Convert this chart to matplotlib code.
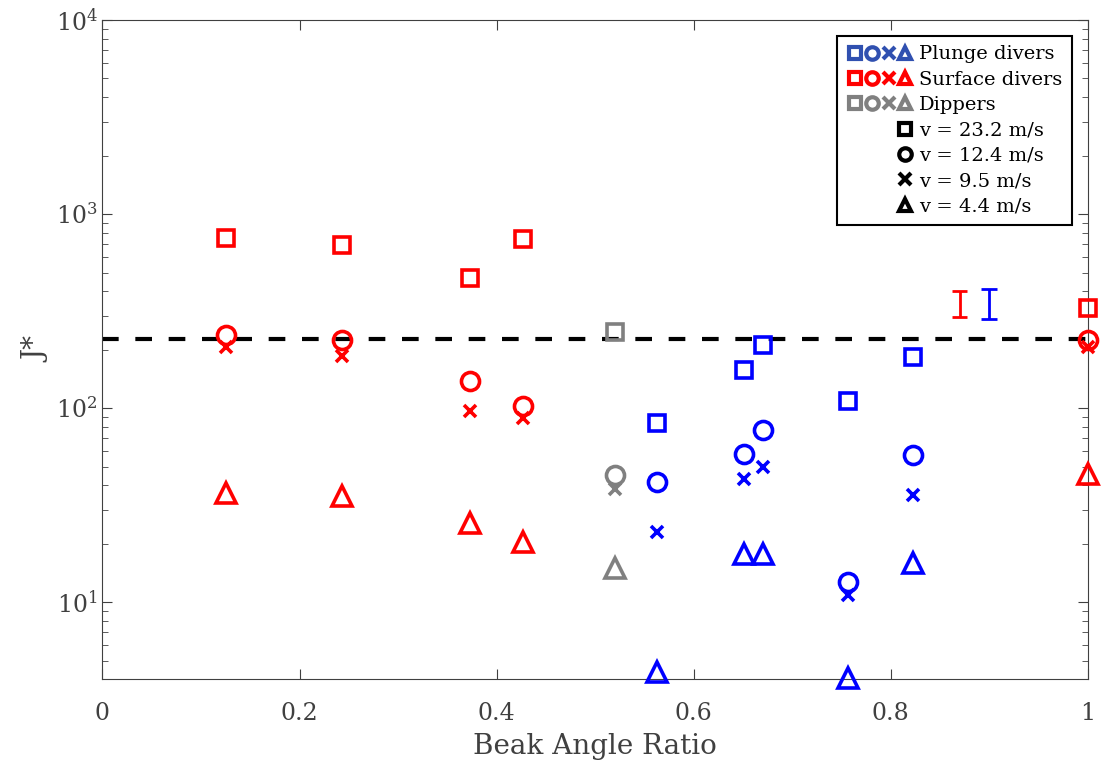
import matplotlib
matplotlib.use('Agg')
import matplotlib.pyplot as plt
from matplotlib.lines import Line2D
from matplotlib.legend_handler import HandlerTuple

# Beak angle ratio and J* for each speed
plunge_x = [0.563, 0.651, 0.670, 0.757, 0.823]
plunge_v232 = [84, 157, 211, 109, 183]
plunge_v124 = [41.6, 58, 77, 12.7, 57.3]
plunge_v95 = [23.0, 43, 49.7, 10.9, 35.6]
plunge_v44 = [4.35, 17.7, 17.7, 4.05, 15.9]

surface_x = [0.125, 0.243, 0.373, 0.427, 1.0]
surface_v232 = [752, 692, 468, 743, 327]
surface_v124 = [238, 224, 138, 102, 224]
surface_v95 = [206, 185, 96.6, 88.7, 206]
surface_v44 = [36.5, 35.2, 25.5, 20.4, 45.7]

dipper_x = [0.52]
dipper_v232 = [246]
dipper_v124 = [45.2]
dipper_v95 = [38.2]
dipper_v44 = [15.0]

threshold = 227

# error bars (x, low, high)
err_x = [0.870, 0.900]
err_lo = [294, 288]
err_hi = [401, 410]
err_colors = ['#ff0000', '#0000ff']

BLUE = '#0000ff'
RED = '#ff0000'
GRAY = '#808080'
TEXT = '#404040'
MARKERS = ['s', 'o', 'x', '^']
SIZES = [11, 13, 9, 14]

plt.rcParams['font.family'] = ['DejaVu Serif']

fig, ax = plt.subplots(figsize=(11.02, 7.72), dpi=100)
fig.subplots_adjust(left=0.093, right=0.987, top=0.974, bottom=0.12)

groups = [
    (plunge_x, [plunge_v232, plunge_v124, plunge_v95, plunge_v44], BLUE),
    (surface_x, [surface_v232, surface_v124, surface_v95, surface_v44], RED),
    (dipper_x, [dipper_v232, dipper_v124, dipper_v95, dipper_v44], GRAY),
]
for xs, series, col in groups:
    for ys, m, ms in zip(series, MARKERS, SIZES):
        ax.plot(xs, ys, linestyle='none', marker=m, markersize=ms,
                markerfacecolor='none', markeredgecolor=col, markeredgewidth=2.6,
                clip_on=False, zorder=3)

ax.axhline(threshold, color='black', linestyle=(0, (4, 4)), linewidth=3, zorder=2)

for x, lo, hi, c in zip(err_x, err_lo, err_hi, err_colors):
    ax.vlines(x, lo, hi, color=c, linewidth=2)
    ax.hlines([lo, hi], x - 0.008, x + 0.008, color=c, linewidth=2)

ax.set_yscale('log')
ax.set_xlim(0, 1)
ax.set_ylim(4, 1e4)
ax.set_xticks([0, 0.2, 0.4, 0.6, 0.8, 1])
ax.set_xticklabels(['0', '0.2', '0.4', '0.6', '0.8', '1'])
ax.tick_params(which='both', direction='in', top=True, right=True, colors=TEXT,
               labelcolor=TEXT, labelsize=17)
ax.tick_params(which='major', length=7)
ax.tick_params(which='minor', length=4)
ax.tick_params(axis='x', which='major', pad=16)
for s in ax.spines.values():
    s.set_color(TEXT)
ax.set_xlabel('Beak Angle Ratio', fontsize=20, color=TEXT, labelpad=6)
ax.set_ylabel('J*', fontsize=20, color=TEXT)

def mk(m, col):
    return Line2D([], [], linestyle='none', marker=m, markersize=9,
                  markerfacecolor='none', markeredgecolor=col, markeredgewidth=3)

def grp(col):
    return tuple(mk(m, col) for m in MARKERS)

def one(m):
    blank = Line2D([], [], linestyle='none')
    return (blank, blank, blank, mk(m, 'black'))

handles = [grp('#3050b0'), grp(RED), grp(GRAY),
           one('s'), one('o'), one('x'), one('^')]
labels = ['Plunge divers', 'Surface divers', 'Dippers',
          'v = 23.2 m/s', 'v = 12.4 m/s', 'v = 9.5 m/s', 'v = 4.4 m/s']
leg = ax.legend(handles, labels, loc='upper right', fontsize=14,
                handler_map={tuple: HandlerTuple(ndivide=None, pad=0.0)},
                handlelength=3.4, handletextpad=0.3, labelspacing=0.38,
                fancybox=False, edgecolor='black', framealpha=1,
                borderaxespad=0.8, borderpad=0.5)
leg.get_frame().set_linewidth(1.5)
for t in leg.get_texts():
    t.set_color('black')

fig.savefig('out.png', dpi=100)
